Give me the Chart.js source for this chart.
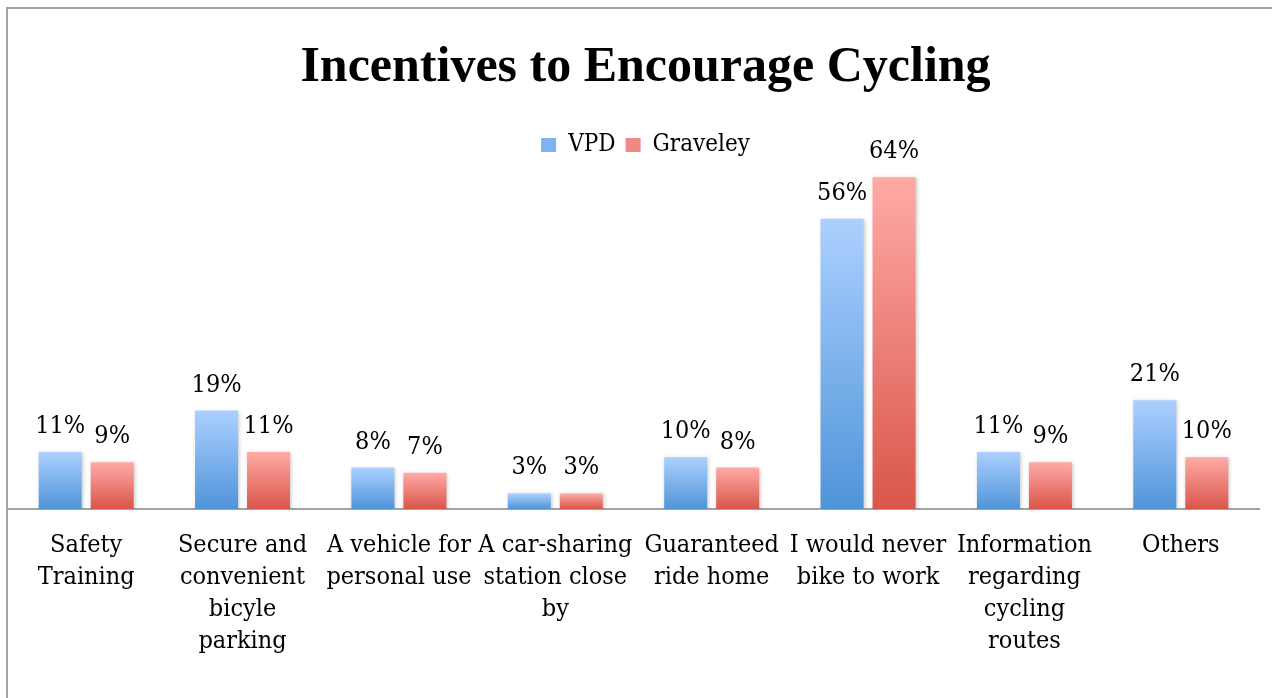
<!DOCTYPE html>
<html>
<head>
<meta charset="utf-8">
<script src="https://cdn.jsdelivr.net/npm/chart.js@4/dist/chart.umd.min.js"></script>
<style>
  html, body { margin: 0; padding: 0; background: #fff; }
  #wrap { position: relative; width: 1272px; height: 698px; overflow: hidden; }
  #frame { position: absolute; left: 6px; top: 7px; width: 1300px; height: 720px; border: 2px solid #a3a3a3; }
  #chart { position: absolute; left: 0; top: 0; }
</style>
</head>
<body>
<div id="wrap">
  <div id="frame"></div>
  <canvas id="chart" width="1300" height="698"></canvas>
</div>
<script>
const FONT = '"DejaVu Serif Condensed", "Liberation Serif", serif';
const TITLE_FONT = '"Liberation Serif", serif';

// data
const categories = [
  ["Safety", "Training"],
  ["Secure and", "convenient", "bicyle", "parking"],
  ["A vehicle for", "personal use"],
  ["A car-sharing", "station close", "by"],
  ["Guaranteed", "ride home"],
  ["I would never", "bike to work"],
  ["Information", "regarding", "cycling", "routes"],
  ["Others"]
];
const vpd = [11, 19, 8, 3, 10, 56, 11, 21];
const graveley = [9, 11, 7, 3, 8, 64, 9, 10];

// gradient colours (top, bottom) and legend swatches
const blues = ["#acd0ff", "#4f94d9"];
const reds = ["#ffaaa6", "#d9564a"];
const swatches = ["#7fb3ef", "#f08983"];

// each bar gets its own top-to-bottom gradient
function barFill(cols, solid) {
  return c => {
    const chart = c.chart;
    if (c.type !== "data" || !chart.chartArea || !chart.scales.y) return solid;
    const y = chart.scales.y;
    const top = y.getPixelForValue(c.raw);
    const base = y.getPixelForValue(0);
    if (!isFinite(top) || !isFinite(base) || top === base) return solid;
    const g = chart.ctx.createLinearGradient(0, top, 0, base);
    g.addColorStop(0, cols[0]);
    g.addColorStop(1, cols[1]);
    return g;
  };
}

// soft shadow under bars + value labels above them
const barExtras = {
  id: "barExtras",
  beforeDatasetsDraw(chart) {
    const ctx = chart.ctx;
    ctx.save();
    ctx.shadowColor = "rgba(0,0,0,0.22)";
    ctx.shadowBlur = 4;
    ctx.shadowOffsetX = 1;
    ctx.shadowOffsetY = 1;
  },
  afterDatasetsDraw(chart) {
    const ctx = chart.ctx;
    ctx.restore();
    ctx.save();
    ctx.font = "25px " + FONT;
    ctx.fillStyle = "#000";
    ctx.textAlign = "center";
    ctx.textBaseline = "bottom";
    chart.data.datasets.forEach((ds, i) => {
      chart.getDatasetMeta(i).data.forEach((el, j) => {
        ctx.fillText(ds.data[j] + "%", el.x, el.y - 13);
      });
    });
    ctx.restore();
  }
};

new Chart(document.getElementById("chart"), {
  type: "bar",
  data: {
    labels: categories,
    datasets: [
      { label: "VPD", data: vpd, backgroundColor: barFill(blues, swatches[0]) },
      { label: "Graveley", data: graveley, backgroundColor: barFill(reds, swatches[1]) }
    ]
  },
  options: {
    responsive: false,
    animation: false,
    layout: { padding: { left: 8, right: 17, top: 0, bottom: 21 } },
    datasets: {
      bar: { categoryPercentage: 0.665, barPercentage: 0.827 }
    },
    plugins: {
      title: {
        display: true,
        text: "Incentives to Encourage Cycling",
        color: "#000",
        font: { family: TITLE_FONT, size: 50, weight: "bold", lineHeight: 1.2 },
        padding: { top: 38, bottom: 25 }
      },
      legend: {
        labels: {
          color: "#000",
          font: { family: FONT, size: 24 },
          boxWidth: 15,
          boxHeight: 14,
          padding: 10,
          generateLabels(chart) {
            const items = Chart.defaults.plugins.legend.labels.generateLabels(chart);
            items.forEach((it, i) => {
              it.fillStyle = swatches[i];
              it.strokeStyle = swatches[i];
              it.lineWidth = 0;
            });
            return items;
          }
        }
      },
      tooltip: { enabled: false }
    },
    scales: {
      x: {
        grid: { display: false, drawTicks: false },
        border: { color: "#a3a3a3", width: 2 },
        ticks: {
          color: "#000",
          font: { family: FONT, size: 25, lineHeight: 1.28 },
          padding: 20,
          maxRotation: 0,
          autoSkip: false
        }
      },
      y: {
        position: "right",
        min: 0,
        max: 66,
        grid: { display: false },
        border: { display: false },
        ticks: { display: false },
        afterFit(scale) { scale.width = 24; }
      }
    }
  },
  plugins: [barExtras]
});
</script>
</body>
</html>
